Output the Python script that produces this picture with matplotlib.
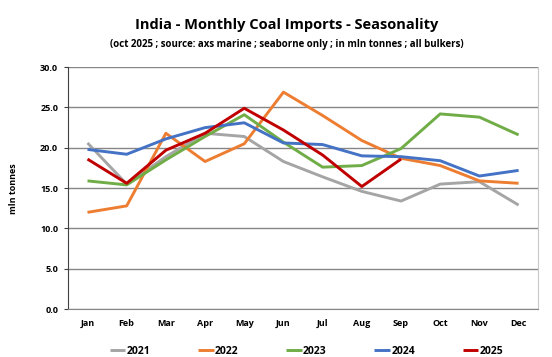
import matplotlib
matplotlib.use("Agg")
import matplotlib.pyplot as plt

months = ["Jan", "Feb", "Mar", "Apr", "May", "Jun", "Jul", "Aug", "Sep", "Oct", "Nov", "Dec"]
y2021 = [20.6, 15.5, 18.9, 21.8, 21.4, 18.3, 16.4, 14.6, 13.4, 15.5, 15.8, 12.9]
y2022 = [12.0, 12.8, 21.8, 18.3, 20.5, 26.9, 24.0, 20.9, 18.7, 17.8, 15.9, 15.6]
y2023 = [15.9, 15.4, 18.5, 21.4, 24.1, 20.7, 17.6, 17.8, 19.9, 24.2, 23.8, 21.6]
y2024 = [19.8, 19.2, 21.1, 22.5, 23.1, 20.6, 20.4, 19.0, 18.9, 18.4, 16.5, 17.2]
y2025 = [18.6, 15.6, 19.7, 21.8, 24.9, 22.2, 19.1, 15.2, 18.6]
series = [("2021", y2021, "#A5A5A5"), ("2022", y2022, "#ED7D31"), ("2023", y2023, "#70AD47"),
          ("2024", y2024, "#4472C4"), ("2025", y2025, "#C00000")]
yticks = [0, 5, 10, 15, 20, 25, 30]

plt.rcParams['font.family'] = ['Open Sans', 'DejaVu Sans']
fig = plt.figure(figsize=(5.52, 3.57), dpi=100)
ax = fig.add_axes([0.123, 0.134, 0.852, 0.678])

x = list(range(len(months)))
for name, vals, col in series:
    ax.plot(x[:len(vals)], vals, color=col, lw=2.1, label=name, solid_capstyle='butt')

ax.set_xlim(-0.5, 11.5)
ax.set_ylim(0, 30)
ax.set_yticks(yticks)
ax.set_yticklabels([f"{v:.1f}" for v in yticks], fontsize=6.5, fontweight='bold')
ax.set_xticks(x)
ax.set_xticklabels(months, fontsize=6.5, fontweight='bold')
ax.tick_params(axis='x', length=0, pad=7)
ax.tick_params(axis='y', length=3, color='#404040', pad=4)
ax.grid(axis='y', color='#868686', lw=1.0)
ax.set_axisbelow(True)
ax.spines['top'].set_visible(False)
ax.spines['right'].set_color('#C8C8C8')
ax.spines['left'].set_color('#404040')
ax.spines['bottom'].set_color('#868686')
ax.set_ylabel("mln tonnes", fontsize=6.5, fontweight='bold', labelpad=16)

fig.text(0.52, 0.93, "India - Monthly Coal Imports - Seasonality", ha='center', va='center',
         fontsize=10.5, fontweight='bold')
fig.text(0.52, 0.875, "(oct 2025 ; source: axs marine ; seaborne only ; in mln tonnes ; all bulkers)",
         ha='center', va='center', fontsize=7, fontweight='bold')

leg = fig.legend(loc='center', bbox_to_anchor=(0.555, 0.016), ncol=5, frameon=False,
                 prop={'weight': 'bold', 'size': 7.5}, handlelength=1.5,
                 handletextpad=0.1, columnspacing=4.6)
fig.savefig("out.png", dpi=100)
